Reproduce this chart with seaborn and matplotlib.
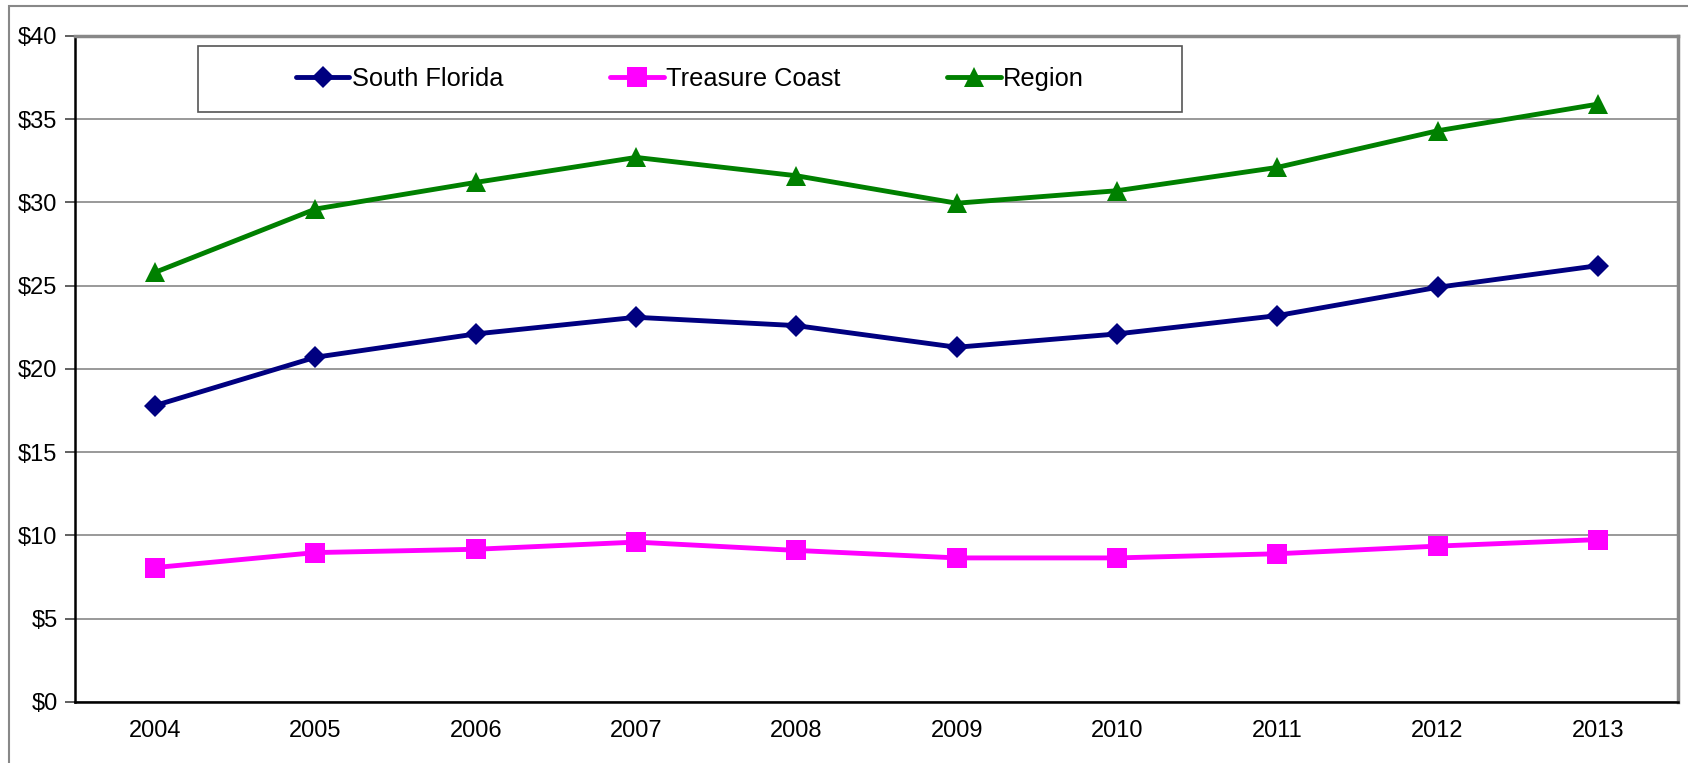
import pandas as pd
import seaborn as sns
import matplotlib.pyplot as plt
from matplotlib.patches import Rectangle
from matplotlib.ticker import FixedLocator

# data
years = ['2004', '2005', '2006', '2007', '2008', '2009', '2010', '2011', '2012', '2013']
south_florida = [17.8, 20.7, 22.1, 23.1, 22.6, 21.3, 22.1, 23.2, 24.9, 26.2]
treasure_coast = [8.07, 8.97, 9.17, 9.6, 9.1, 8.65, 8.65, 8.9, 9.36, 9.75]
region = [25.8, 29.6, 31.2, 32.7, 31.6, 29.95, 30.7, 32.1, 34.3, 35.9]
series_names = ['South Florida', 'Treasure Coast', 'Region']
y_ticks = [0, 5, 10, 15, 20, 25, 30, 35, 40]

df = pd.DataFrame({
    'year': years * 3,
    'value': south_florida + treasure_coast + region,
    'series': [n for n in series_names for _ in years],
})
df['pos'] = df['year'].map({y: i for i, y in enumerate(years)})

sns.set_style('white')
plt.rcParams['font.family'] = ['Liberation Sans', 'DejaVu Sans']
plt.rcParams['text.color'] = 'black'
plt.rcParams['xtick.labelcolor'] = 'black'
plt.rcParams['ytick.labelcolor'] = 'black'

fig = plt.figure(figsize=(16.88, 7.63), dpi=100)
ax = fig.add_axes([0.0444, 0.08, 0.9497, 0.873])

colors = {'South Florida': '#000080', 'Treasure Coast': '#FF00FF', 'Region': '#008000'}
markers = {'South Florida': 'D', 'Treasure Coast': 's', 'Region': '^'}
sizes = {'South Florida': 11, 'Treasure Coast': 15, 'Region': 15}

for name in series_names:
    sub = df[df['series'] == name]
    sns.lineplot(data=sub, x='pos', y='value', ax=ax, color=colors[name],
                 marker=markers[name], markersize=sizes[name], markeredgewidth=0,
                 linewidth=3.5, label=name)

ax.set_xlim(-0.5, len(years) - 0.5)
ax.set_ylim(0, 40)
ax.set_xticks(range(len(years)))
ax.set_xticklabels(years, fontsize=17)
ax.xaxis.set_minor_locator(FixedLocator([i - 0.5 for i in range(len(years) + 1)]))
ax.tick_params(axis='x', which='major', length=0, pad=13)
ax.tick_params(axis='x', which='minor', length=7, color='#888888', width=1.2, direction='out')
ax.set_yticks(y_ticks)
ax.set_yticklabels([f'${v}' for v in y_ticks], fontsize=17)
ax.tick_params(axis='y', length=7, color='#444444', width=1.2, direction='out', left=True, pad=5.5)
ax.set_xlabel('')
ax.set_ylabel('')

ax.grid(axis='y', color='#888888', linewidth=1.2)
ax.set_axisbelow(True)
for s in ['left', 'bottom']:
    ax.spines[s].set_color('black')
    ax.spines[s].set_linewidth(1.8)
for s in ['top', 'right']:
    ax.spines[s].set_color('#888888')
    ax.spines[s].set_linewidth(2.5)

# legend box drawn separately so its size matches the original
box = (0.0767, 0.886, 0.614, 0.099)
ax.add_patch(Rectangle(box[:2], box[2], box[3], transform=ax.transAxes, facecolor='white',
                       edgecolor='#555555', linewidth=1.2, zorder=4))
leg = ax.legend(loc='center', bbox_to_anchor=box, ncol=3,
                fontsize=18.3, frameon=False, handlelength=2.1,
                handletextpad=0.1, columnspacing=4.2, borderaxespad=0)
leg.set_zorder(5)

# outer chart border
fig.patches.append(Rectangle((9 / 1688, -0.1), 1.2, (763 - 6) / 763 + 0.1,
                             transform=fig.transFigure, fill=False,
                             edgecolor='#888888', linewidth=1.5))

fig.savefig('out.png', dpi=100)
